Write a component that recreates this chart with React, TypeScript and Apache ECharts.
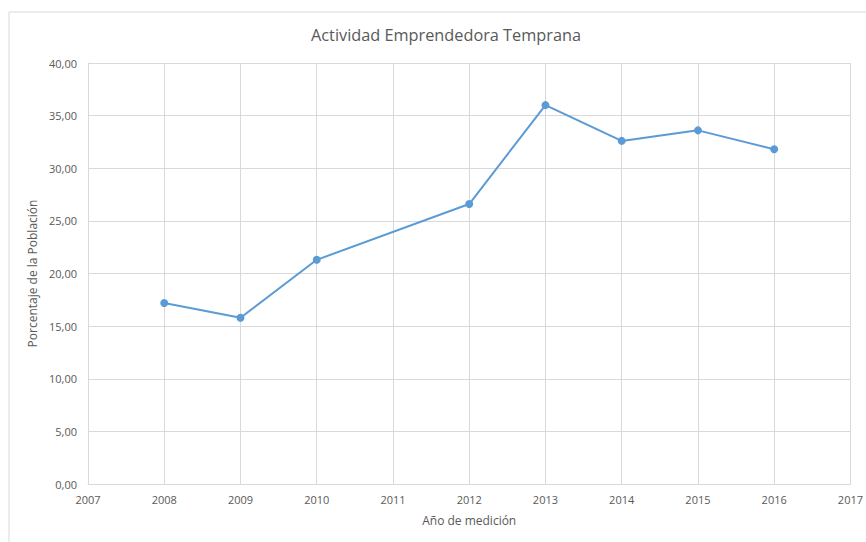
import React, { useEffect, useRef } from "react";
import * as echarts from "echarts";

const years = [2008, 2009, 2010, 2012, 2013, 2014, 2015, 2016];
const values = [17.2, 15.8, 21.3, 26.6, 36.0, 32.6, 33.6, 31.8];
const titleText = "Actividad Emprendedora Temprana";
const xName = "Año de medición";
const yName = "Porcentaje de la Población";

export default function App() {
  const ref = useRef<HTMLDivElement>(null);
  useEffect(() => {
    if (!ref.current) return;
    const chart = echarts.init(ref.current, undefined, { renderer: "svg" });
    const font = "'Open Sans', 'Noto Sans', sans-serif";
    chart.setOption({
      animation: false,
      backgroundColor: "#ffffff",
      textStyle: { fontFamily: font },
      title: {
        text: titleText,
        left: 306,
        top: 22,
        textStyle: { fontFamily: font, fontSize: 16.3, fontWeight: "normal", color: "#595959" },
      },
      graphic: [
        {
          type: "rect",
          shape: { x: 9, y: 12, width: 880, height: 560 },
          style: { fill: "none", stroke: "#d9d9d9", lineWidth: 1 },
          silent: true,
        },
      ],
      grid: { left: 88, right: 12, top: 63, bottom: 58 },
      xAxis: {
        type: "value",
        min: 2007,
        max: 2017,
        interval: 1,
        name: xName,
        nameLocation: "middle",
        nameGap: 30,
        nameTextStyle: { fontFamily: font, fontSize: 12, color: "#595959" },
        axisLine: { show: true, lineStyle: { color: "#d9d9d9" } },
        axisTick: { show: false },
        axisLabel: {
          fontFamily: font,
          fontSize: 11,
          color: "#595959",
          margin: 10,
          formatter: (v: number) => String(v),
        },
        splitLine: { show: true, lineStyle: { color: "#d9d9d9" } },
      },
      yAxis: {
        type: "value",
        min: 0,
        max: 40,
        interval: 5,
        name: yName,
        nameLocation: "middle",
        nameGap: 45,
        nameTextStyle: { fontFamily: font, fontSize: 12, color: "#595959" },
        axisLine: { show: true, lineStyle: { color: "#d9d9d9" } },
        axisTick: { show: false },
        axisLabel: {
          fontFamily: font,
          fontSize: 11,
          color: "#595959",
          margin: 11,
          formatter: (v: number) => v.toFixed(2).replace(".", ","),
        },
        splitLine: { show: true, lineStyle: { color: "#d9d9d9" } },
      },
      series: [
        {
          type: "line",
          data: years.map((y, i) => [y, values[i]]),
          symbol: "circle",
          symbolSize: 8,
          lineStyle: { color: "#5b9bd5", width: 2 },
          itemStyle: { color: "#5b9bd5" },
        },
      ],
    });
    return () => chart.dispose();
  }, []);
  return (
    <div
      ref={ref}
      style={{ position: "fixed", left: 0, top: 0, width: 866, height: 542 }}
    />
  );
}
